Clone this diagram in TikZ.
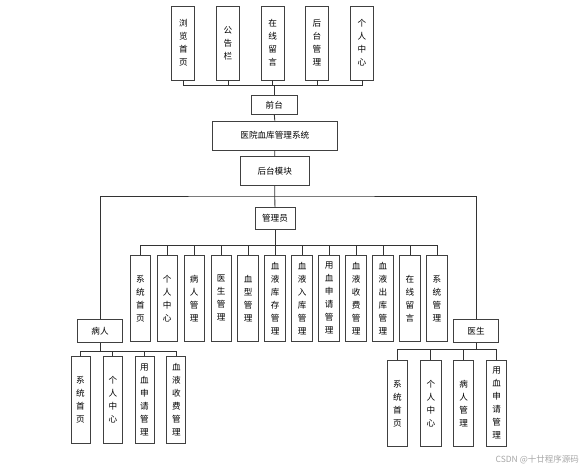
\documentclass[tikz,border=0pt]{standalone}
\usepackage{fontspec}
\newfontfamily\cjk{Noto Sans CJK SC}
\begin{document}
\begin{tikzpicture}[x=1pt,y=-1pt,
  box/.style={draw=black!75, line width=0.9pt, fill=white, inner sep=0pt, align=center,
    font={\cjk\fontsize{8.6}{13}\selectfont}},
  vbox/.style={box, minimum width=#1, minimum height=86.7pt},
  conn/.style={draw=black!80, line width=0.9pt}]
\useasboundingbox (0,0) rectangle (581,471);
% top row
\foreach \n/\x/\t in {t1/183.3/浏\\览\\首\\页, t2/228/公\\告\\栏, t3/272.7/在\\线\\留\\言, t4/317/后\\台\\管\\理, t5/362/个\\人\\中\\心}
  \node[box, minimum width=23pt, minimum height=74pt] (\n) at (\x,43) {\t};
\node[box, minimum width=46.7pt, minimum height=18.6pt] (qian) at (274.3,105) {前台};
\node[box, minimum width=125pt, minimum height=29pt] (sys) at (274.8,135.5) {医院血库管理系统};
\node[box, minimum width=69.3pt, minimum height=28.3pt] (hou) at (274.7,171) {后台模块};
\node[box, minimum width=40pt, minimum height=21.6pt] (admin) at (275,218.5) {管理员};
\node[box, minimum width=44.4pt, minimum height=22.3pt] (pat) at (100,331) {病人};
\node[box, minimum width=45pt, minimum height=22.3pt] (doc) at (476,331) {医生};
% admin children
\foreach \i/\t in {0/系\\统\\首\\页, 1/个\\人\\中\\心, 2/病\\人\\管\\理, 3/医\\生\\管\\理, 4/血\\型\\管\\理,
  5/血\\液\\库\\存\\管\\理, 6/血\\液\\入\\库\\管\\理, 7/用\\血\\申\\请\\管\\理, 8/血\\液\\收\\费\\管\\理,
  9/血\\液\\出\\库\\管\\理, 10/在\\线\\留\\言, 11/系\\统\\管\\理}
  \node[vbox=20.5pt] (a\i) at ({140.3+26.97*\i},298.3) {\t};
% patient children
\foreach \i/\x/\t in {0/80.5/系\\统\\首\\页, 1/112.8/个\\人\\中\\心, 2/144.5/用\\血\\申\\请\\管\\理, 3/176.3/血\\液\\收\\费\\管\\理}
  \node[vbox=19pt] (p\i) at (\x,400) {\t};
% doctor children
\foreach \i/\x/\t in {0/397.5/系\\统\\首\\页, 1/430.8/个\\人\\中\\心, 2/463.7/病\\人\\管\\理, 3/496.7/用\\血\\申\\请\\管\\理}
  \node[vbox=20.3pt] (d\i) at (\x,403.3) {\t};
% bus coordinates
\coordinate (topbus) at (274.3,85);
\coordinate (midbus) at (274.7,196);
\coordinate (abus) at (275,245);
\coordinate (pbus) at (100,351);
\coordinate (dbus) at (476,349.3);
% connectors
\foreach \n in {t1,t2,t3,t4,t5}
  \draw[conn] (\n.south) -- (\n.south |- topbus) -- (topbus);
\draw[conn] (topbus) -- (qian.north);
\draw[conn] (qian.south) -- (sys.north);
\draw[conn] (sys.south) -- (hou.north);
\draw[conn] (hou.south) -- (midbus) -- (admin.north);
\draw[conn] (pat.north) |- (midbus) -| (doc.north);
\draw[conn] (admin.south) -- (abus);
\foreach \i in {0,...,11}
  \draw[conn] (a\i.north) -- (a\i.north |- abus) -- (abus);
\draw[conn] (pat.south) -- (pbus);
\foreach \i in {0,...,3}
  \draw[conn] (p\i.north) -- (p\i.north |- pbus) -- (pbus);
\draw[conn] (doc.south) -- (dbus);
\foreach \i in {0,...,3}
  \draw[conn] (d\i.north) -- (d\i.north |- dbus) -- (dbus);
% watermark
\node[anchor=east, text=black!35, inner sep=0pt, font={\cjk\fontsize{8.5}{10}\selectfont}] (wm) at (579,460) {CSDN @十廿程序源码};
\end{tikzpicture}
\end{document}
